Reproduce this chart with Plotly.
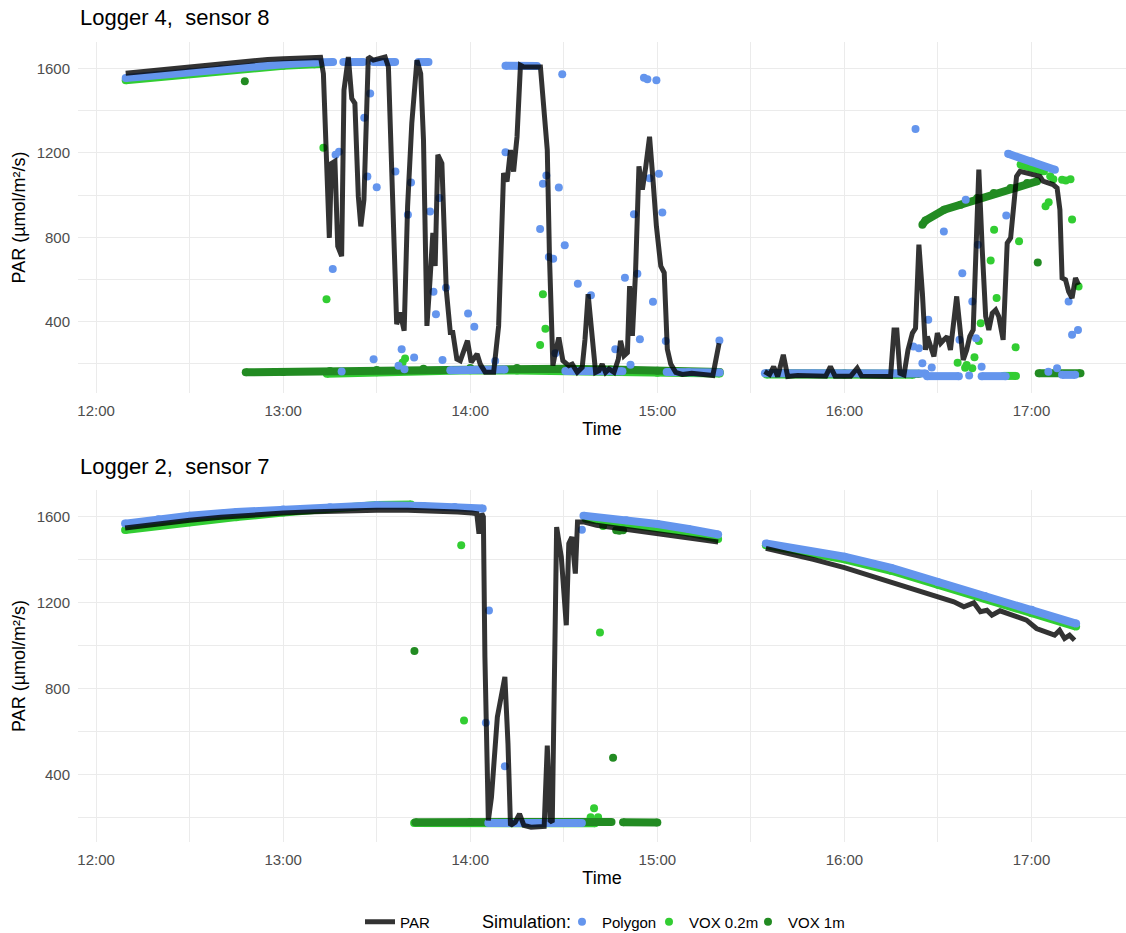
import pandas as pd
import plotly.graph_objects as go

# ---------------- data (minutes after 12:00, PAR value) ----------------
top_par = [
    [(9.5,1578),(15,1586),(20,1594),(25,1602),(30,1610),(35,1617),(40,1624),(45,1631),(50,1638),(55,1643),
     (60,1647),(65,1651),(70,1654),(72,1653),(72.9,1576),(74.8,797),(75.5,1150),(76.6,1160),(77.5,758),(78.75,711),
     (79.5,1498),(80.9,1655),(82,1458),(83,1435),(84.1,994),(84.9,852),(85.9,978),(87.3,1655),(88.9,1640),(92.7,1655),
     (93.75,1608),(94.8,1104),(96.4,388),(97.5,443),(98.8,357),(99.9,947),(101.25,1340),(102.9,1640),(104.1,1576),
     (105,1262),(106.1,380),(107.1,600),(108,821),(108.75,664),(109.6,1191),(110.9,1151),(112.3,553),(113.6,349),
     (114.4,349),(115.7,223),(116.8,215),(119.1,310),(120.3,207),(122.2,247),(123.2,199),(124.8,160),(127.5,160),
     (129.1,380),(130.7,1104),(131.8,1065),(132.9,1214),(133.9,1112),(135,1277),(136.1,1616),(137.2,1608),(142.5,1608),
     (143.6,1419),(144.7,1214),(145.4,711),(146.5,192),(147.3,254),(148.4,325),(149.7,215),(151.6,192),(152.7,199),
     (154.3,160),(155.9,184),(156.8,317),(157.8,530),(158.9,365),(160.2,160),(161.3,168),(162.3,199),(163.4,160),
     (164.5,176),(166.1,160),(167.5,223),(168.2,309),(169.3,239),(170.4,254),(171.1,569),(172,333),(173,632),
     (174.1,1136),(175.2,1026),(176.3,1136),(177.5,1277),(178.6,1073),(179.7,852),(181.1,664),(182.2,632),(183.2,270),
     (184.3,199),(185.9,160),(188,150),(191,155),(194,148),(197.8,145),(199.8,298)],
    [(214.4,164),(216,150),(217.3,187),(218.6,140),(220.4,243),(221.8,140),(225,145),(230,142),(234,142),(235.5,187),
     (237,142),(242,142),(244.1,180),(245.5,142),(250,140),(254.8,140),(255.9,361),(256.8,361),(257.8,156),(259.1,148),
     (260.4,266),(261.8,346),(262.8,369),(263.9,765),(265,535),(266,266),(266.6,330),(267.7,282),(268.7,235),(269.8,346),
     (270.9,298),(271.9,314),(273,330),(274,266),(275.1,440),(276,520),(277,377),(278.1,219),(279.2,266),(280.2,330),
     (281.3,361),(282.1,773),(283.1,1121),(284.2,741),(285.3,425),(286.3,361),(287.4,440),(288.5,456),(289.5,425),
     (290.9,314),(292.2,773),(293.3,797),(294.3,931),(295.2,1089),(296.3,1113),(298.1,1105),(300.7,1097),(302.7,1089),
     (303.7,1066),(305,1058),(306.9,1050),(308.2,1034),(309.1,931),(309.8,607),(310.9,599),(311.9,543),(313,512),
     (314.1,607),(315.1,575)],
]

top_poly_bands = [
    [(9.5,1555),(20,1570),(30,1585),(40,1598),(50,1611),(60,1621),(70,1629),(76,1631)],
    [(79.3,1631),(85.7,1631)],
    [(88.9,1631),(95.9,1631)],
    [(103.4,1631),(106.6,1631)],
    [(113.6,170),(120,172),(131,174)],
    [(131.3,1614),(141.4,1612)],
    [(150.5,166),(158,166),(168.8,165)],
    [(183,161),(190,160),(200,159)],
    [(214.5,156),(230,155),(245,155),(266,154)],
    [(266.5,142),(276.7,142)],
    [(284,142),(291.7,142)],
    [(292.5,1196),(300,1160),(307.5,1120)],
    [(309.8,148),(314,148)],
]
top_poly_dots = [
    (75.9,650),(76.8,1191),(77.9,1206),(78.75,164),(86,1367),(87,1088),(87.9,1482),(89,222),(90,1038),(96,1112),
    (97,191),(98,269),(98.9,175),(100,907),(101,1060),(102,230),(107.1,923),(108.2,542),(109,435),(110.1,986),
    (111.1,219),(112.2,561),(119.3,439),(121.3,376),(128,214),(131.3,1203),(142.4,839),(143.3,1054),(144.4,1093),
    (145.2,707),(146.6,698),(147.3,250),(148.4,1036),(149.5,1573),(150.3,762),(154.5,580),(158.7,526),(166.5,269),
    (169.6,608),(171.4,196),(172.5,910),(173.6,627),(174.4,317),(175.7,1557),(176.8,1550),(177.5,1080),(178.6,495),
    (179.7,1545),(180.5,1101),(181.6,918),(182.7,309),(199.9,311),
    (262.8,1314),(278.9,978),(271.9,828),(291.9,904),(277.8,630),(282.8,765),(281,496),(266.9,409),(262.1,282),
    (263.9,274),(276.9,314),(282.2,322),(265,203),(268,183),(284,187),(280,145),(305.4,163),(308.2,179),(311.9,496),
    (313,338),(314.9,361),
]

top_vox02_bands = [
    [(9.5,1545),(20,1560),(30,1575),(40,1590),(50,1603),(60,1613),(70,1621),(72,1622)],
    [(74,153),(90,160),(105,166),(120,170),(135,169),(150,166),(165,162),(180,158),(200,154)],
    [(215,150),(240,150),(262,149)],
    [(291,143),(295,143)],
    [(296.5,1145),(300,1130),(304,1113)],
]
top_vox02_dots = [
    (72.9,1225),(73.9,506),(98.3,207),(99.1,226),(142.4,289),(143.3,530),(144.1,367),(276.3,205),(278.7,182),
    (279.2,195),(281,179),(281.7,232),(283.1,309),(283.7,393),(286.9,690),(288,836),(288.8,512),(294.9,279),
    (296,781),(304.5,947),(305.5,966),(306,1089),(307,1075),(309.8,1073),(311,1070),(312.5,1075),(313,884),(315.1,567),
]

top_vox1_bands = [
    [(48,160),(60,162),(75,166),(90,171),(105,177),(120,181),(135,180),(150,177),(165,173),(180,168),(200,162)],
    [(215,156),(240,155),(264,153)],
    [(265,860),(266,880),(272,931),(277.3,955),(282.6,986),(287.9,1010),(293.3,1034),(298.6,1058),(301.8,1066)],
    [(302.3,156),(315.7,156)],
]
top_vox1_dots = [(47.7,1540),(302,681)]

bot_par = [
    [(9.3,1546),(15,1556),(20,1566),(30,1582),(40,1595),(50,1606),(60,1615),(70,1621),(80,1626),(90,1628),
     (100,1628),(110,1626),(116,1620),(120.5,1615),(122.1,1612),(122.8,1519),(123.7,1612),(124.2,1597),(124.7,947),
     (125.8,188),(126.8,296),(128.7,668),(131.1,854),(132.1,544),(132.9,165),(134.4,180),(135.8,219),(137.2,165),
     (139.5,157),(143.7,160),(144.7,536),(145.6,188),(146.3,180),(147.7,1550),(149.2,1411),(150.8,1094),(151.6,1473),
     (152.6,1504),(153.7,1334),(154.4,1574),(156.3,1574),(160.5,1558),(167.9,1543),(179.5,1523),(190,1502),(199.5,1481)],
    [(214.8,1451),(220,1435),(230,1400),(240,1362),(254,1300),(260,1275),(269.8,1228),(275.1,1203),(278.3,1180),
     (281.5,1198),(283.6,1157),(285.7,1164),(287.3,1141),(289.9,1161),(292,1150),(295.2,1133),(298.4,1118),
     (301.6,1079),(304.8,1064),(307.4,1048),(309,1071),(310.6,1033),(312.2,1048),(313.8,1025)],
]

bot_poly_bands = [
    [(9.3,1566),(20,1586),(30,1602),(45,1620),(60,1631),(75,1642),(90,1651),(105,1648),(115,1643),(124,1636)],
    [(125.8,176),(140,176),(155.8,176)],
    [(156.3,1603),(170,1582),(180,1564),(190,1541),(199.5,1516)],
    [(214.8,1474),(240,1412),(255,1360),(270,1294),(285,1230),(300,1166),(314.3,1102)],
]
bot_poly_dots = [(125,641),(126,1163),(131.1,440),(155.8,1538)]

bot_vox02_bands = [
    [(9.3,1536),(20,1556),(30,1572),(45,1596),(60,1618),(75,1638),(90,1652),(101,1655)],
    [(102,176),(130,176),(160,175)],
    [(157,1588),(170,1566),(180,1548),(190,1524),(199.5,1495)],
    [(214.8,1466),(240,1400),(255,1347),(270,1282),(285,1218),(300,1150),(314.3,1088)],
]
bot_vox02_dots = [(117.1,1466),(118,652),(158.6,203),(159.7,245),(161,203),(161.6,1060),(162.6,1555)]

bot_vox1_bands = [
    [(102.4,180),(120,181),(140,181),(165.3,181)],
    [(169,180),(180,179)],
]
bot_vox1_dots = [(102.1,975),(165.8,479),(166.8,1535),(167.8,1533),(169,1535)]

# ---------------- helpers ----------------
BASE = pd.Timestamp("2023-06-01 12:00:00")
def to_time(m):
    return None if m is None else (BASE + pd.Timedelta(minutes=m)).strftime("%Y-%m-%d %H:%M:%S")

def join_segments(segs):
    xs, ys = [], []
    for i, seg in enumerate(segs):
        if i:
            xs.append(None); ys.append(None)
        for m, v in seg:
            xs.append(to_time(m)); ys.append(v)
    return xs, ys

def unzip(points):
    return [to_time(m) for m, _ in points], [v for _, v in points]

COL = {"Polygon": "#6495ED", "VOX 0.2m": "#32CD32", "VOX 1m": "#228B22"}
LEG = {"Polygon": "legend2", "VOX 0.2m": "legend3", "VOX 1m": "legend4"}
FONT = "Liberation Sans, Arial, Helvetica, sans-serif"

fig = go.Figure()

panels = [
    ("x", "y", top_par, [("VOX 0.2m", top_vox02_bands, top_vox02_dots),
                          ("VOX 1m", top_vox1_bands, top_vox1_dots),
                          ("Polygon", top_poly_bands, top_poly_dots)], True),
    ("x2", "y2", bot_par, [("VOX 0.2m", bot_vox02_bands, bot_vox02_dots),
                            ("VOX 1m", bot_vox1_bands, bot_vox1_dots),
                            ("Polygon", bot_poly_bands, bot_poly_dots)], False),
]

for xa, ya, par, sims, show in panels:
    for name, bands, dots in sims:
        bx, by = join_segments(bands)
        fig.add_trace(go.Scatter(x=bx, y=by, mode="lines+markers", xaxis=xa, yaxis=ya,
                                 line=dict(color=COL[name], width=8),
                                 marker=dict(color=COL[name], size=8),
                                 connectgaps=False, showlegend=False, hoverinfo="skip",
                                 legendgroup=name))
        dx, dy = unzip(dots)
        fig.add_trace(go.Scatter(x=dx, y=dy, mode="markers", xaxis=xa, yaxis=ya, name=name,
                                 marker=dict(color=COL[name], size=8),
                                 showlegend=show, legend=LEG[name], legendgroup=name))
    px_, py_ = join_segments(par)
    fig.add_trace(go.Scatter(x=px_, y=py_, mode="lines", xaxis=xa, yaxis=ya, name="PAR",
                             line=dict(color="rgba(0,0,0,0.8)", width=5),
                             connectgaps=False, showlegend=show, legend="legend"))

x_range = ["2023-06-01 11:54:12", "2023-06-01 17:30:18"]
grid = "#EBEBEB"
xcommon = dict(type="date", range=x_range, tickformat="%H:%M", dtick=3600000,
               tick0="2023-06-01 12:00:00", showgrid=True, gridcolor=grid, gridwidth=1.3,
               minor=dict(dtick=1800000, showgrid=True, gridcolor=grid, gridwidth=0.8),
               zeroline=False, showline=False, ticks="", ticklabelstandoff=7,
               tickfont=dict(size=15, color="#4D4D4D", family=FONT),
               title=dict(text="Time", font=dict(size=18, color="black", family=FONT), standoff=4))
ycommon = dict(tickvals=[400, 800, 1200, 1600], showgrid=True, gridcolor=grid, gridwidth=1.3,
               minor=dict(dtick=200, showgrid=True, gridcolor=grid, gridwidth=0.8),
               zeroline=False, showline=False, ticks="", ticklabelstandoff=7,
               tickfont=dict(size=15, color="#4D4D4D", family=FONT),
               title=dict(text="PAR (µmol/m²/s)", font=dict(size=18, color="black", family=FONT), standoff=6))

leg_common = dict(orientation="h", xref="container", yref="container", y=0.0118,
                  xanchor="left", yanchor="middle", font=dict(size=15, family=FONT),
                  bgcolor="rgba(0,0,0,0)", itemwidth=30)

fig.update_layout(
    width=1126, height=933,
    margin=dict(l=78, r=0, t=42, b=91, autoexpand=False),
    paper_bgcolor="white", plot_bgcolor="white",
    font=dict(family=FONT, color="black"),
    xaxis=dict(**xcommon, domain=[0, 1], anchor="y"),
    yaxis=dict(**ycommon, domain=[0.56125, 1], anchor="x", range=[62, 1726]),
    xaxis2=dict(**xcommon, domain=[0, 1], anchor="y2"),
    yaxis2=dict(**ycommon, domain=[0, 0.44], anchor="x2", range=[88, 1722]),
    legend=dict(**leg_common, x=360 / 1126),
    legend2=dict(**leg_common, x=562 / 1126),
    legend3=dict(**leg_common, x=649 / 1126),
    legend4=dict(**leg_common, x=748 / 1126),
    annotations=[
        dict(text="Logger 4,\u00a0 sensor 8", xref="paper", yref="paper", x=0, y=1.03,
             xanchor="left", yanchor="middle", showarrow=False, font=dict(size=22, color="black")),
        dict(text="Logger 2,\u00a0 sensor 7", xref="paper", yref="paper", x=0, y=0.47,
             xanchor="left", yanchor="middle", showarrow=False, font=dict(size=22, color="black")),
        dict(text="Simulation:", xref="paper", yref="paper", x=(480 - 78) / 1048, y=-0.1,
             xanchor="left", yanchor="middle", showarrow=False, font=dict(size=18, color="black")),
    ],
)

fig.write_html("out.html", config={"displayModeBar": False},
               post_script="document.body.style.margin='0';document.body.style.overflow='hidden';")
